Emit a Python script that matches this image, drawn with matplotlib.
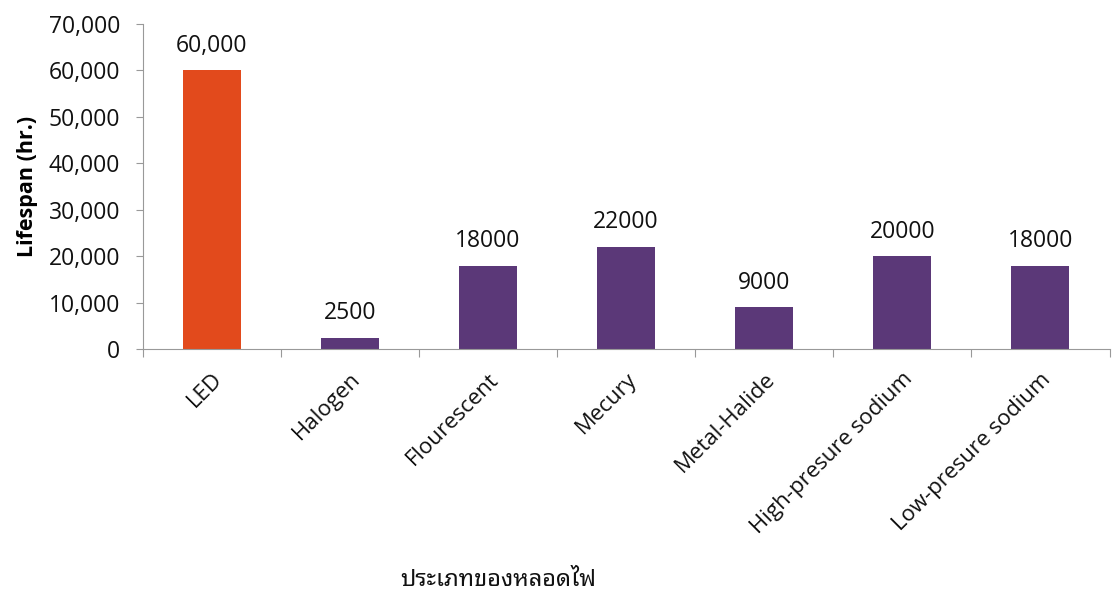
import matplotlib
matplotlib.use("Agg")
import matplotlib.pyplot as plt
from matplotlib.ticker import FuncFormatter

lamp_types = ["LED", "Halogen", "Flourescent", "Mecury", "Metal-Halide",
              "High-presure sodium", "Low-presure sodium"]
lifespan = [60000, 2500, 18000, 22000, 9000, 20000, 18000]
value_labels = ["60,000", "2500", "18000", "22000", "9000", "20000", "18000"]
bar_colors = ["#E24A1C", "#5B3878", "#5B3878", "#5B3878", "#5B3878", "#5B3878", "#5B3878"]

plt.rcParams["font.family"] = ["Open Sans", "DejaVu Sans"]

fig = plt.figure(figsize=(11.14, 5.97), dpi=100)
ax = fig.add_axes([0.128, 0.415, 0.868, 0.545])

x = list(range(len(lamp_types)))
ax.bar(x, lifespan, width=0.42, color=bar_colors)

for xi, v, lab in zip(x, lifespan, value_labels):
    ax.text(xi, v + 2700, lab, ha="center", va="bottom", fontsize=16.5, color="#111111")

ax.set_xlim(-0.5, len(lamp_types) - 0.5)
ax.set_ylim(0, 70000)
ax.set_yticks(range(0, 70001, 10000))
ax.yaxis.set_major_formatter(FuncFormatter(lambda v, p: f"{int(v):,}"))
ax.tick_params(axis="y", labelsize=16.5, length=5, pad=11, color="#999999", labelcolor="#111111")

# category boundaries carry the tick marks, the names sit at the centres
ax.set_xticks([i - 0.5 for i in range(len(lamp_types) + 1)])
ax.set_xticklabels([])
ax.set_xticks(x, minor=True)
ax.set_xticklabels(lamp_types, minor=True, rotation=45, ha="right",
                   rotation_mode="anchor", fontsize=16, color="#111111")
ax.tick_params(axis="x", which="major", length=6, color="#999999")
ax.tick_params(axis="x", which="minor", length=0, pad=14)

for s in ["top", "right"]:
    ax.spines[s].set_visible(False)
for s in ["left", "bottom"]:
    ax.spines[s].set_color("#999999")

ax.set_ylabel("Lifespan (hr.)", fontsize=15.5, fontweight="bold", labelpad=8)

fig.text(0.447, 0.008, "ประเภทของหลอดไฟ", ha="center", va="bottom", fontsize=17,
         family=["Noto Sans Thai Looped", "DejaVu Sans"], color="#111111")

fig.savefig("out.png", dpi=100)
